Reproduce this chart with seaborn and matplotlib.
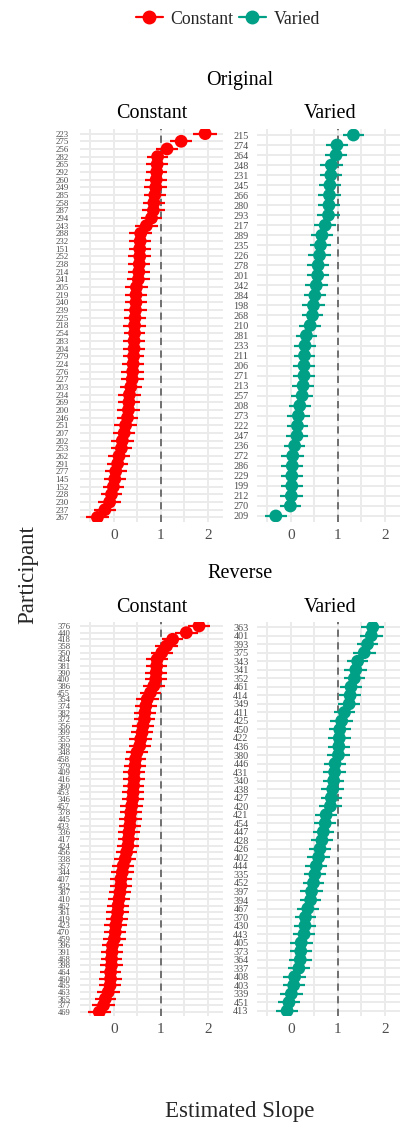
import numpy as np
import pandas as pd
import matplotlib
matplotlib.use("Agg")
import matplotlib.pyplot as plt
import seaborn as sns
from matplotlib.lines import Line2D
from matplotlib.ticker import MultipleLocator

# ---- Original block, Constant condition ----
orig_const_ids = [223, 275, 256, 282, 265, 292, 260, 249, 285, 258,
                  287, 294, 243, 288, 232, 151, 252, 238, 214, 241,
                  205, 219, 240, 239, 225, 218, 254, 283, 204, 279,
                  224, 276, 227, 203, 234, 269, 200, 246, 251, 207,
                  202, 253, 262, 291, 277, 145, 152, 228, 230, 237,
                  267]
orig_const_slope = [1.94, 1.43, 1.13, 0.93, 0.92, 0.91, 0.90, 0.89, 0.87, 0.85,
                    0.84, 0.80, 0.69, 0.57, 0.56, 0.55, 0.55, 0.54, 0.53, 0.52,
                    0.48, 0.47, 0.47, 0.46, 0.45, 0.44, 0.44, 0.43, 0.43, 0.42,
                    0.41, 0.40, 0.39, 0.36, 0.33, 0.32, 0.31, 0.29, 0.25, 0.22,
                    0.18, 0.16, 0.11, 0.08, 0.04, 0.02, -0.01, -0.05, -0.09, -0.19,
                    -0.35]
orig_const_err = [0.25, 0.24, 0.24, 0.23, 0.24, 0.23, 0.23, 0.24, 0.23, 0.23,
                  0.24, 0.23, 0.24, 0.24, 0.23, 0.23, 0.24, 0.23, 0.24, 0.24,
                  0.24, 0.23, 0.23, 0.24, 0.23, 0.24, 0.23, 0.23, 0.24, 0.23,
                  0.23, 0.25, 0.24, 0.23, 0.24, 0.23, 0.24, 0.23, 0.24, 0.23,
                  0.24, 0.23, 0.24, 0.23, 0.23, 0.24, 0.23, 0.23, 0.24, 0.23,
                  0.24]

# ---- Original block, Varied condition ----
orig_var_ids = [215, 274, 264, 248, 231, 245, 266, 280, 293, 217,
                289, 235, 226, 278, 201, 242, 284, 198, 268, 210,
                281, 233, 211, 206, 271, 213, 257, 208, 273, 222,
                247, 236, 272, 286, 229, 199, 212, 270, 209]
orig_var_slope = [1.33, 0.98, 0.96, 0.86, 0.85, 0.83, 0.82, 0.81, 0.80, 0.73,
                  0.66, 0.63, 0.61, 0.58, 0.57, 0.54, 0.51, 0.48, 0.46, 0.41,
                  0.33, 0.30, 0.29, 0.28, 0.28, 0.26, 0.24, 0.19, 0.16, 0.14,
                  0.13, 0.08, 0.04, 0.03, 0.02, 0.02, 0.01, -0.01, -0.32]
orig_var_err = [0.23, 0.24, 0.23, 0.24, 0.24, 0.23, 0.24, 0.23, 0.24, 0.23,
                0.24, 0.23, 0.24, 0.23, 0.23, 0.24, 0.23, 0.24, 0.23, 0.24,
                0.23, 0.24, 0.23, 0.24, 0.23, 0.23, 0.24, 0.23, 0.24, 0.23,
                0.24, 0.23, 0.24, 0.23, 0.24, 0.23, 0.24, 0.23, 0.24]

# ---- Reverse block, Constant condition ----
rev_const_ids = [376, 440, 418, 358, 350, 434, 381, 390, 400, 386,
                 455, 354, 374, 382, 372, 356, 399, 355, 389, 348,
                 458, 379, 409, 416, 360, 453, 346, 457, 378, 445,
                 433, 336, 417, 424, 456, 338, 357, 344, 407, 432,
                 387, 410, 462, 361, 419, 423, 470, 459, 396, 391,
                 468, 398, 464, 460, 465, 463, 365, 377, 469]
rev_const_slope = [1.81, 1.54, 1.25, 1.12, 1.02, 0.92, 0.91, 0.90, 0.89, 0.85,
                   0.78, 0.71, 0.68, 0.66, 0.65, 0.62, 0.60, 0.57, 0.55, 0.49,
                   0.46, 0.45, 0.43, 0.43, 0.42, 0.41, 0.40, 0.38, 0.36, 0.35,
                   0.34, 0.32, 0.31, 0.30, 0.27, 0.24, 0.20, 0.18, 0.15, 0.15,
                   0.13, 0.11, 0.09, 0.08, 0.06, 0.04, 0.03, 0.01, -0.03, -0.04,
                   -0.05, -0.05, -0.07, -0.07, -0.08, -0.12, -0.18, -0.22, -0.31]
rev_const_err = [0.24, 0.24, 0.23, 0.24, 0.23, 0.24, 0.23, 0.24, 0.23, 0.24,
                 0.23, 0.24, 0.23, 0.24, 0.23, 0.24, 0.23, 0.24, 0.23, 0.24,
                 0.23, 0.24, 0.23, 0.24, 0.23, 0.24, 0.23, 0.24, 0.23, 0.24,
                 0.23, 0.24, 0.23, 0.24, 0.23, 0.24, 0.23, 0.24, 0.23, 0.24,
                 0.23, 0.24, 0.23, 0.24, 0.23, 0.24, 0.23, 0.24, 0.23, 0.24,
                 0.23, 0.24, 0.23, 0.24, 0.23, 0.24, 0.23, 0.24, 0.24]

# ---- Reverse block, Varied condition ----
rev_var_ids = [363, 401, 393, 375, 343, 341, 352, 461, 414, 349,
               411, 425, 450, 422, 436, 380, 446, 431, 340, 438,
               427, 420, 421, 454, 447, 428, 426, 402, 444, 335,
               452, 397, 394, 467, 370, 430, 443, 405, 373, 364,
               337, 408, 403, 339, 451, 413]
rev_var_slope = [1.74, 1.71, 1.63, 1.56, 1.42, 1.38, 1.35, 1.28, 1.26, 1.24,
                 1.14, 1.08, 1.04, 1.03, 1.02, 1.01, 0.94, 0.93, 0.91, 0.89,
                 0.86, 0.84, 0.75, 0.73, 0.69, 0.66, 0.62, 0.59, 0.54, 0.51,
                 0.48, 0.44, 0.42, 0.36, 0.31, 0.30, 0.28, 0.22, 0.21, 0.20,
                 0.17, 0.08, 0.06, 0.01, -0.04, -0.08]
rev_var_err = [0.24, 0.24, 0.23, 0.24, 0.23, 0.24, 0.23, 0.24, 0.23, 0.24,
               0.23, 0.24, 0.23, 0.24, 0.23, 0.24, 0.23, 0.24, 0.23, 0.24,
               0.23, 0.24, 0.23, 0.24, 0.23, 0.24, 0.23, 0.24, 0.23, 0.24,
               0.23, 0.24, 0.23, 0.24, 0.23, 0.24, 0.23, 0.24, 0.23, 0.24,
               0.23, 0.24, 0.23, 0.24, 0.23, 0.24]

conditions = ["Constant", "Varied"]
blocks = ["Original", "Reverse"]
x_ticks = [0, 1, 2]
palette = {"Constant": "#FF0000", "Varied": "#00A087"}

sns.set_theme(style="white")
plt.rcParams["font.family"] = ["Liberation Serif", "DejaVu Serif"]

W, H = 400, 1131
fig = plt.figure(figsize=(W / 100, H / 100), dpi=100)


def rect(x0, y0, x1, y1):
    return [x0 / W, 1 - y1 / H, (x1 - x0) / W, (y1 - y0) / H]


XLIM = (-0.72, 2.32)
GRID = "#EBEBEB"
TXT = "#4D4D4D"


def draw_panel(r, ids, slopes, errs, cond, label_size, pad):
    ax = fig.add_axes(r)
    df = pd.DataFrame({"pid": [str(i) for i in ids], "slope": slopes, "err": errs})
    df["pos"] = np.arange(len(df))
    n = len(df)
    col = palette[cond]

    ax.set_xlim(*XLIM)
    ax.set_ylim(n - 1 + 0.6, -0.6)
    ax.xaxis.set_major_locator(MultipleLocator(1))
    ax.xaxis.set_minor_locator(MultipleLocator(0.5))
    ax.grid(which="major", axis="x", color=GRID, lw=1.4, zorder=0)
    ax.grid(which="minor", axis="x", color=GRID, lw=1.4, zorder=0)
    for p in df["pos"]:
        ax.axhline(p, color=GRID, lw=1.4, zorder=0)
    ax.axvline(1, color="#666666", lw=1.3, ls=(0, (4, 3)), zorder=1)

    ax.hlines(df["pos"], df["slope"] - df["err"], df["slope"] + df["err"],
              color=col, lw=1.6, zorder=3)
    sns.scatterplot(data=df, x="slope", y="pos", color=col, s=85,
                    edgecolor="none", linewidth=0, ax=ax, zorder=4, legend=False)

    ax.set_yticks(df["pos"])
    ax.set_yticklabels(df["pid"])
    ax.set_xticks(x_ticks)
    ax.set_xticklabels([str(t) for t in x_ticks])
    ax.tick_params(axis="y", length=0, pad=pad, labelsize=label_size, labelcolor=TXT)
    ax.tick_params(axis="x", which="both", length=0, pad=5, labelsize=11, labelcolor=TXT)
    ax.set_xlabel("")
    ax.set_ylabel("")
    for s in ax.spines.values():
        s.set_visible(False)
    ax.set_facecolor("white")
    return ax


# top row: Original
draw_panel(rect(80, 129, 223, 522), orig_const_ids, orig_const_slope, orig_const_err,
           "Constant", 6.4, 8)
draw_panel(rect(257, 129, 400, 522), orig_var_ids, orig_var_slope, orig_var_err,
           "Varied", 7.3, 6)
# bottom row: Reverse
draw_panel(rect(80, 622, 223, 1016), rev_const_ids, rev_const_slope, rev_const_err,
           "Constant", 6.2, 7)
draw_panel(rect(257, 622, 400, 1016), rev_var_ids, rev_var_slope, rev_var_err,
           "Varied", 7.3, 6)

# block and condition headings
for blk, yb, ys in [(blocks[0], 80, 114), (blocks[1], 573, 607)]:
    fig.text(240 / W, 1 - yb / H, blk, ha="center", va="center", fontsize=14.5, color="black")
    fig.text(151.5 / W, 1 - ys / H, conditions[0], ha="center", va="center", fontsize=14.5, color="black")
    fig.text(330 / W, 1 - ys / H, conditions[1], ha="center", va="center", fontsize=14.5, color="black")

fig.text(28 / W, 1 - 575 / H, "Participant", rotation=90, ha="center", va="center", fontsize=16.5)
fig.text(240 / W, 1 - 1112 / H, "Estimated Slope", ha="center", va="center", fontsize=16.5)

handles = [Line2D([0], [0], color=palette[c], marker="o", markersize=9, lw=1.6)
           for c in conditions]
fig.legend(handles, conditions, loc="center", bbox_to_anchor=(228 / W, 1 - 19 / H),
           ncol=2, frameon=False, fontsize=12.8, handlelength=1.5, columnspacing=0.3,
           handletextpad=0.45)

fig.savefig("out.png", dpi=100, facecolor="white")
